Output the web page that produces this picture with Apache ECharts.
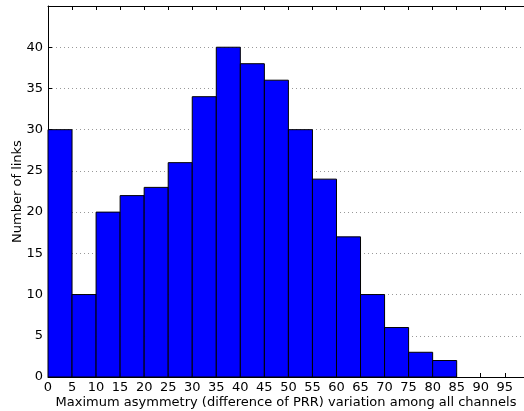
<!DOCTYPE html>
<html>
<head>
<meta charset="utf-8">
<script src="https://cdn.jsdelivr.net/npm/echarts@6/dist/echarts.min.js"></script>
<style>
  html, body { margin: 0; padding: 0; background: #fff; }
  #chart { width: 524px; height: 411px; }
</style>
</head>
<body>
<div id="chart"></div>
<script>
// bin edges (start of each 5-wide bin) and counts
const binStarts = [0, 5, 10, 15, 20, 25, 30, 35, 40, 45, 50, 55, 60, 65, 70, 75, 80];
const binWidth = 5;
const counts = [30, 10, 20, 22, 23, 26, 34, 40, 38, 36, 30, 24, 17, 10, 6, 3, 2];
const yTicks = [0, 5, 10, 15, 20, 25, 30, 35, 40];

const font = 'DejaVu Sans';
const data = binStarts.map((s, i) => [s, s + binWidth, counts[i]]);

const chart = echarts.init(document.getElementById('chart'));
chart.setOption({
  animation: false,
  grid: { left: 48, right: 0, top: 6, bottom: 34, containLabel: false, outerBoundsMode: 'none' },
  xAxis: [
    {
      type: 'value', min: 0, max: 99, interval: 5,
      name: 'Maximum asymmetry (difference of PRR) variation among all channels',
      nameLocation: 'middle', nameGap: 19, nameMoveOverlap: false,
      nameTextStyle: { fontFamily: font, fontSize: 13, color: '#000' },
      axisLine: { lineStyle: { color: '#000', width: 1 } },
      axisTick: { inside: true, length: 4, lineStyle: { color: '#000' } },
      axisLabel: { fontFamily: font, fontSize: 13, color: '#000', margin: 4,
        formatter: v => (v % 5 === 0 ? String(v) : '') },
      splitLine: { show: false }
    },
    {
      type: 'value', position: 'top', min: 0, max: 99, interval: 5,
      axisLine: { show: true, lineStyle: { color: '#000', width: 1 } },
      axisTick: { inside: true, length: 4, lineStyle: { color: '#000' } },
      axisLabel: { show: false },
      splitLine: { show: false }
    }
  ],
  yAxis: {
    type: 'value', min: 0, max: 45, interval: 5,
    name: 'Number of links', nameLocation: 'middle', nameGap: 24, nameMoveOverlap: false,
    nameTextStyle: { fontFamily: font, fontSize: 13, color: '#000' },
    axisLine: { show: true, lineStyle: { color: '#000', width: 1 } },
    axisTick: { inside: true, length: 4, lineStyle: { color: '#000' } },
    axisLabel: { fontFamily: font, fontSize: 13, color: '#000', margin: 5,
      formatter: v => (yTicks.includes(v) ? String(v) : '') },
    splitLine: { show: true, lineStyle: { color: '#999', type: [1, 3], width: 1 } }
  },
  series: [{
    type: 'custom',
    xAxisIndex: 0,
    data: data,
    encode: { x: [0, 1], y: 2 },
    renderItem: function (params, api) {
      const p0 = api.coord([api.value(0), api.value(2)]);
      const p1 = api.coord([api.value(1), 0]);
      return {
        type: 'rect',
        shape: { x: p0[0], y: p0[1], width: p1[0] - p0[0], height: p1[1] - p0[1] },
        style: { fill: '#0000ff', stroke: '#000', lineWidth: 1 }
      };
    }
  }]
});
</script>
</body>
</html>
